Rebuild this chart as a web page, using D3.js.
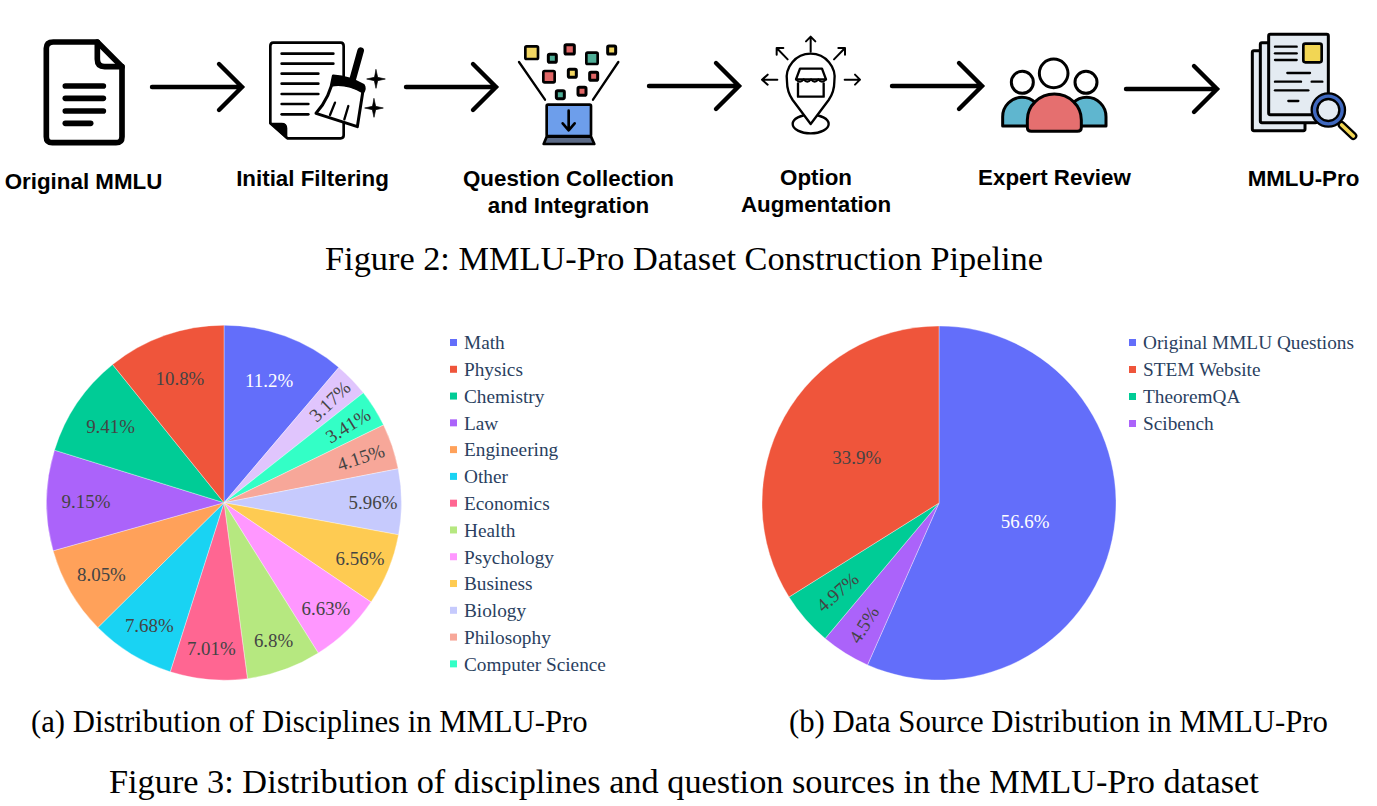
<!DOCTYPE html>
<html><head><meta charset="utf-8">
<script src="https://cdn.jsdelivr.net/npm/d3@7/dist/d3.min.js"></script>
<style>html,body{margin:0;padding:0;background:#fff;overflow:hidden}svg{display:block}</style>
</head><body><svg id="c" width="1377" height="806"></svg>
<script>
const disciplines = ["Math","History","Computer Science","Philosophy","Biology","Business","Psychology","Health","Economics","Other","Engineering","Law","Chemistry","Physics"];
const disciplineValues = [11.2,3.17,3.41,4.15,5.96,6.56,6.63,6.8,7.01,7.68,8.05,9.15,9.41,10.8];
const disciplineColors = ["#636EFA","#E0C5FD","#33FFC6","#F7A799","#C6CAFD","#FECB52","#FF97FF","#B6E880","#FF6692","#19D3F3","#FFA15A","#AB63FA","#00CC96","#EF553B"];
const legendOrder = ["Math","Physics","Chemistry","Law","Engineering","Other","Economics","Health","Psychology","Business","Biology","Philosophy","Computer Science"];
const sources = ["Original MMLU Questions","Scibench","TheoremQA","STEM Website"];
const sourceValues = [56.6,4.5,4.97,33.9];
const sourceColors = ["#636EFA","#AB63FA","#00CC96","#EF553B"];
const sourceLegendOrder = ["Original MMLU Questions","STEM Website","TheoremQA","Scibench"];
const stepLines = [["Original MMLU"],["Initial Filtering"],["Question Collection","and Integration"],["Option","Augmentation"],["Expert Review"],["MMLU-Pro"]];

const svg = d3.select("#c");
const SERIF = "'Liberation Serif','Times New Roman',serif";
const SANS = "'Liberation Sans',Arial,sans-serif";
const INK = "#000";

// ---- pies
function drawPie(cfg){
  const g = svg.append("g").attr("transform",`translate(${cfg.cx},${cfg.cy})`);
  const color = d3.scaleOrdinal().domain(cfg.names).range(cfg.colors);
  const arcs = d3.pie().sort(null).value(d=>d.v)(cfg.names.map((n,i)=>({n,v:cfg.values[i]})));
  const arc = d3.arc().innerRadius(0).outerRadius(cfg.r);
  g.selectAll("path").data(arcs).join("path").attr("d",arc).attr("fill",d=>color(d.data.n))
    .attr("stroke","#fff").attr("stroke-width",0.35);
  const rad = d3.scaleLinear().domain(cfg.radDomain).range(cfg.radRange);
  g.selectAll("text").data(arcs).join("text").each(function(d){
    const mid=(d.startAngle+d.endAngle)/2, p=rad(d.data.v);
    const x=p*Math.sin(mid), y=-p*Math.cos(mid);
    let rot=0;
    if(d.data.v<5){ rot=mid*180/Math.PI-90; if(rot>90) rot-=180; }
    d3.select(this).attr("transform",`translate(${x},${y}) rotate(${rot})`)
      .attr("text-anchor","middle").attr("dy","0.37em")
      .attr("font-family",SERIF).attr("font-size",cfg.fs)
      .attr("fill",d.data.v===cfg.whiteValue?"#fff":"#444")
      .text(d.data.v+"%");
  });
  const lg = svg.append("g").selectAll("g").data(cfg.legend).join("g")
    .attr("transform",(d,i)=>`translate(${cfg.lx},${cfg.ly+i*cfg.lstep})`);
  lg.append("rect").attr("x",0).attr("y",-4).attr("width",7).attr("height",7).attr("fill",d=>color(d));
  lg.append("text").attr("x",14).attr("y",0).attr("dy","0.33em").attr("font-family",SERIF).attr("font-size",cfg.lfs).attr("fill","#2a3f5f").text(d=>d);
}
drawPie({cx:224,cy:502.7,r:177.5,names:disciplines,values:disciplineValues,colors:disciplineColors,whiteValue:11.2,
  radDomain:[3.17,3.41,4.15,5.96,11.2],radRange:[146.5,146,144,149,131],fs:18.9,legend:legendOrder,lx:450,ly:343,lstep:26.78,lfs:19.3});
drawPie({cx:939,cy:503,r:177,names:sources,values:sourceValues,colors:sourceColors,whiteValue:56.6,
  radDomain:[4.5,4.97,33.9,56.6],radRange:[143,135,94,88],fs:18.9,legend:sourceLegendOrder,lx:1129,ly:343,lstep:27,lfs:19.3});

// ---- captions
function cap(t,x,y,fs){svg.append("text").attr("x",x).attr("y",y).attr("font-family",SERIF).attr("font-size",fs).attr("fill","#000").text(t);}
cap("Figure 2: MMLU-Pro Dataset Construction Pipeline",325,270,34.35);
cap("(a) Distribution of Disciplines in MMLU-Pro",31,732,30.7);
cap("(b) Data Source Distribution in MMLU-Pro",789,732,30.75);
cap("Figure 3: Distribution of disciplines and question sources in the MMLU-Pro dataset",109,793,34.3);

// ---- pipeline labels
const stepX=[83.5,312.5,568.5,816,1054.5,1303.5];
const stepY=[189,186,186,185,185,186];
stepLines.forEach((ls,i)=>ls.forEach((t,j)=>{
  svg.append("text").attr("x",stepX[i]).attr("y",stepY[i]+j*27).attr("text-anchor","middle")
    .attr("font-family",SANS).attr("font-weight",700).attr("font-size",22.35).attr("fill","#000").text(t);
}));

// ---- arrows
const arrowSpecs=[[150,242,87],[404,496,87],[647,739,86],[890,982,86],[1124,1217,89]];
const ag=svg.append("g").attr("fill","none").attr("stroke",INK).attr("stroke-width",4.4).attr("stroke-linecap","round").attr("stroke-linejoin","miter");
arrowSpecs.forEach(([a,b,y])=>{
  ag.append("path").attr("d",`M${a+2},${y}H${b}M${b-23},${y-23}L${b},${y}L${b-23},${y+23}`);
});

// ---- icons (coordinates are 3x units local to each group)
function grp(x,y){return svg.append("g").attr("transform",`translate(${x},${y}) scale(${1/3})`).attr("stroke-linecap","round").attr("stroke-linejoin","round");}
function add(g,tag,attrs){const e=g.append(tag);Object.entries(attrs).forEach(([k,v])=>e.attr(k,v));return e;}

// Document
let g=grp(0,20);
add(g,"path",{d:"M160,66H292L366,140V350Q366,368 348,368H157Q139,368 139,350V85Q139,66 160,66Z",fill:"#fff",stroke:INK,"stroke-width":17});
add(g,"path",{d:"M292,66V118Q292,140 314,140H366",fill:"none",stroke:INK,"stroke-width":17});
[[198,310],[235,310],[273,310],[310,272]].forEach(([y,x])=>add(g,"path",{d:`M196,${y}H${x}`,stroke:INK,"stroke-width":17}));

// Paper + broom
add(g,"path",{d:"M820,68H1022Q1031,68 1031,78V346Q1031,355 1022,355H862L811,310V78Q811,68 820,68Z",fill:"#fff",stroke:INK,"stroke-width":8});
add(g,"path",{d:"M811,310H845Q860,310 860,325V355Z",fill:INK,stroke:INK,"stroke-width":4});
[[101,1000],[131,1000],[161,955],[191,955],[222,955],[252,925],[283,925]].forEach(([y,x])=>add(g,"path",{d:`M845,${y}H${x}`,stroke:INK,"stroke-width":8}));
add(g,"path",{d:"M1082,92L1058,178",stroke:INK,"stroke-width":20});
add(g,"path",{d:"M1000,168Q1050,172 1090,196Q1096,205 1088,218L1072,320L948,280Q992,230 1000,168Z",fill:"#fff",stroke:INK,"stroke-width":9});
add(g,"path",{d:"M1000,168Q1050,172 1090,196Q1096,205 1088,218Q1040,190 994,198Z",fill:INK,stroke:INK,"stroke-width":4});
["M1005,248L990,285","M1045,258L1033,298"].forEach(d=>add(g,"path",{d,stroke:INK,"stroke-width":7,fill:"none"}));
const star=(cx,cy,r)=>{const k=r*0.18;return `M${cx},${cy-r}L${cx+k},${cy-k}L${cx+r},${cy}L${cx+k},${cy+k}L${cx},${cy+r}L${cx-k},${cy+k}L${cx-r},${cy}L${cx-k},${cy-k}Z`;};
add(g,"path",{d:star(1128,177,28),fill:INK,stroke:INK,"stroke-width":2});
add(g,"path",{d:star(1122,264,28),fill:INK,stroke:INK,"stroke-width":2});

// Funnel + laptop
g=grp(500,20);
[[95,98,38,"#f2d662"],[157,115,24,"#4fae97"],[209,88,28,"#e06666"],[276,115,34,"#4fae97"],[335,90,24,"#f2d662"],[147,170,34,"#e06666"],[217,160,24,"#f2d662"],[281,169,24,"#e06666"],[181,224,24,"#4fae97"],[246,214,24,"#e06666"]]
 .forEach(([x,y,s,f])=>add(g,"rect",{x:x-s/2,y:y-s/2,width:s,height:s,rx:4,fill:f,stroke:INK,"stroke-width":s>30?8:9}));
add(g,"path",{d:"M57,126L135,239M355,126L279,239",stroke:INK,"stroke-width":7,fill:"none"});
add(g,"rect",{x:140,y:254,width:133,height:94,rx:4,fill:"#6d9eeb",stroke:INK,"stroke-width":8});
add(g,"path",{d:"M140,350H273L283,372H131Z",fill:"#5b6a86",stroke:INK,"stroke-width":8});
add(g,"path",{d:"M206,272V330M188,310L206,331L224,310",fill:"none",stroke:INK,"stroke-width":8});

// Pin
add(g,"ellipse",{cx:932,cy:312,rx:54,ry:28,fill:"#fff",stroke:INK,"stroke-width":7});
add(g,"path",{d:"M932,312L878,240Q861,215 861,185A72,72 0 1 1 1003,185Q1003,215 986,240Z",fill:"#fff",stroke:INK,"stroke-width":7});
add(g,"path",{d:"M900,146H966L978,178H888Z",fill:"#fff",stroke:INK,"stroke-width":7});
add(g,"path",{d:"M888,178Q900,192 911,178Q922,192 933,178Q944,192 955,178Q966,192 978,178",fill:"none",stroke:INK,"stroke-width":6});
add(g,"path",{d:"M894,190V230H971V190",fill:"none",stroke:INK,"stroke-width":7});
["M932,95V50M918,64L932,50L946,64","M863,118L830,84M830,104V84H850","M1002,118L1035,84M1015,84H1035V104","M832,179H786M803,164L786,179L803,194","M1034,179H1080M1065,164L1080,179L1065,194"]
 .forEach(d=>add(g,"path",{d,fill:"none",stroke:INK,"stroke-width":6}));

// People
g=grp(950,20);
add(g,"path",{d:"M158,318V290A58,58 0 0 1 274,290V318Z",fill:"#5fb6cf",stroke:INK,"stroke-width":9});
add(g,"path",{d:"M352,318V290A58,58 0 0 1 468,290V318Z",fill:"#5fb6cf",stroke:INK,"stroke-width":9});
add(g,"path",{d:"M232,322V300A81,78 0 0 1 394,300V322Q394,334 382,334H244Q232,334 232,322Z",fill:"#e56f6f",stroke:INK,"stroke-width":9});
[[311,160,43],[217,187,33],[408,187,33]].forEach(([cx,cy,r])=>add(g,"circle",{cx,cy,r,fill:"#fff",stroke:INK,"stroke-width":9}));

// Papers + magnifier
[[907,92,158,240],[931,68,170,240],[956,43,179,241]].forEach(([x,y,w,h])=>add(g,"rect",{x,y,width:w,height:h,rx:5,fill:"#e4ebf2",stroke:INK,"stroke-width":9}));
add(g,"rect",{x:1060,y:71,width:55,height:56,rx:6,fill:"#f2d654",stroke:INK,"stroke-width":8});
[[80,975,1040],[100,975,1040],[120,975,1040],[159,1012,1080],[185,975,1053],[185,1085,1117],[211,975,1075],[243,1015,1045]].forEach(([y,a,b])=>add(g,"path",{d:`M${a},${y}H${b}`,stroke:INK,"stroke-width":7}));
add(g,"path",{d:"M1175,315L1210,348",stroke:INK,"stroke-width":24});
add(g,"path",{d:"M1175,315L1210,348",stroke:"#f2d654","stroke-width":11});
add(g,"circle",{cx:1135,cy:270,r:50,fill:"#3f68bf",stroke:INK,"stroke-width":7});
add(g,"circle",{cx:1135,cy:270,r:33,fill:"#e4ebf2",stroke:INK,"stroke-width":7});
</script></body></html>
